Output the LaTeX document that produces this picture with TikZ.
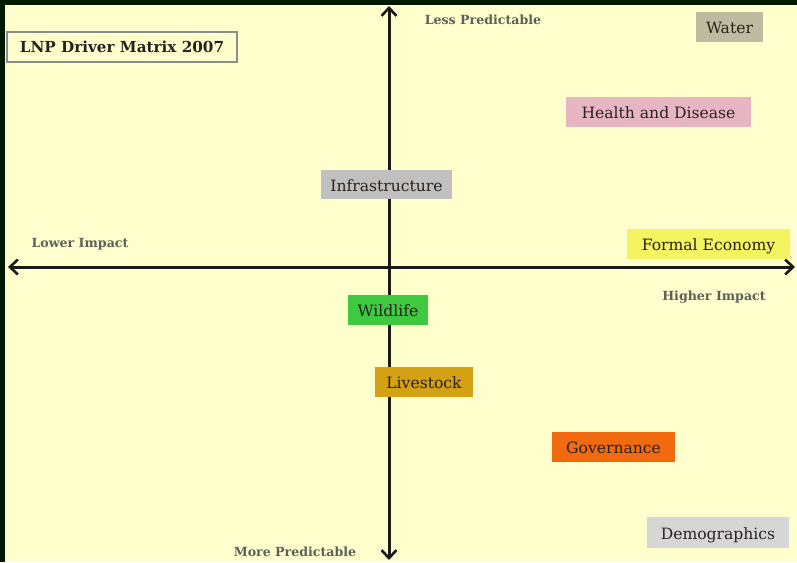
\documentclass[tikz,border=0pt]{standalone}
\usepackage{fontspec}
\setmainfont{DejaVu Serif}
\usetikzlibrary{arrows.meta}
\definecolor{bgyellow}{RGB}{255,255,206}
\definecolor{frame}{RGB}{0,24,0}
\definecolor{cwater}{RGB}{190,187,160}
\definecolor{chealth}{RGB}{232,182,194}
\definecolor{cinfra}{RGB}{192,192,192}
\definecolor{cformal}{RGB}{244,244,96}
\definecolor{cwild}{RGB}{64,200,64}
\definecolor{clive}{RGB}{212,160,20}
\definecolor{cgov}{RGB}{242,106,16}
\definecolor{cdemo}{RGB}{214,214,214}
\definecolor{ctext}{RGB}{40,34,30}
\definecolor{clabel}{RGB}{95,95,90}
\tikzset{
  driver/.style={rectangle, inner sep=0pt, text height=13.5pt, text depth=0pt, text=ctext, font=\fontsize{15.6}{17}\selectfont},
  axislabel/.style={inner sep=0pt, text=clabel, font=\fontsize{12.6}{14}\selectfont\bfseries},
  axisline/.style={line width=3pt, black!90, {Straight Barb[length=8pt,width=15pt,line width=2.6pt]}-{Straight Barb[length=8pt,width=15pt,line width=2.6pt]}},
}
\begin{document}
\begin{tikzpicture}[x=1pt,y=-1pt]
\fill[frame] (0,0) rectangle (797,562);
\fill[bgyellow] (5,5) rectangle (797,562);
\useasboundingbox (0,0) rectangle (797,562);
% axes
\coordinate (top) at (389,6);
\coordinate (bottom) at (389,560);
\coordinate (left) at (8,267);
\coordinate (right) at (795,267);
\draw[axisline] (bottom) -- (top);
\draw[axisline] (left) -- (right);
% title
\node[draw=black!45, line width=1.2pt, rectangle, minimum width=230pt, minimum height=30pt, inner sep=0pt, text=ctext, font=\fontsize{15.2}{17}\selectfont\bfseries] (title) at (122,47) {LNP Driver Matrix 2007};
% axis labels
\node[axislabel] (less) at (483,20) {Less Predictable};
\node[axislabel] (more) at (295,552) {More Predictable};
\node[axislabel] (lower) at (80,244) {Lower Impact};
\node[axislabel] (higher) at (714,297) {Higher Impact};
% drivers
\node[driver, fill=cwater, minimum width=67pt, minimum height=30pt] (water) at (729.5,27) {Water};
\node[driver, fill=chealth, minimum width=185pt, minimum height=30pt] (health) at (658.5,112) {Health and Disease};
\node[driver, fill=cinfra, minimum width=131pt, minimum height=29pt] (infra) at (386.5,184.5) {Infrastructure};
\node[driver, fill=cformal, minimum width=163pt, minimum height=30pt] (formal) at (708.5,244) {Formal Economy};
\node[driver, fill=cwild, minimum width=80pt, minimum height=30pt] (wild) at (388,310) {Wildlife};
\node[driver, fill=clive, minimum width=98pt, minimum height=30pt] (live) at (424,382) {Livestock};
\node[driver, fill=cgov, minimum width=123pt, minimum height=30pt] (gov) at (613.5,447) {Governance};
\node[driver, fill=cdemo, minimum width=142pt, minimum height=31pt] (demo) at (718,532.5) {Demographics};
\end{tikzpicture}
\end{document}
